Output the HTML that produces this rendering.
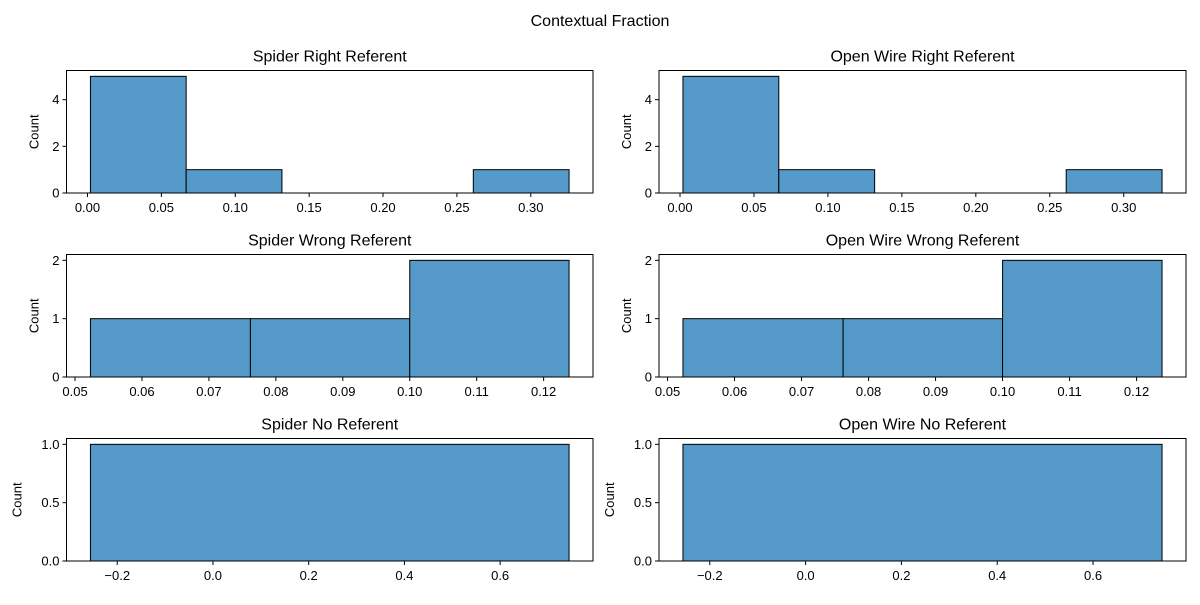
<!DOCTYPE html>
<html><head><meta charset="utf-8"><style>
body{margin:0;background:#fff;}
svg text{font-family:"Liberation Sans","DejaVu Sans",sans-serif;fill:#000;}
</style></head><body>
<svg id="fig" width="1200" height="600" viewBox="0 0 1200 600" xmlns="http://www.w3.org/2000/svg">
<rect width="1200" height="600" fill="#fff"/>
<text x="600" y="26" text-anchor="middle" font-size="16">Contextual Fraction</text>
</svg>
<script>
const rightEdges = [0.0020, 0.0668, 0.1316, 0.1963, 0.2611, 0.3259];
const rightCounts = [5, 1, 0, 0, 1];
const rightXTicks = [0.00, 0.05, 0.10, 0.15, 0.20, 0.25, 0.30];
const rightXLabels = ["0.00","0.05","0.10","0.15","0.20","0.25","0.30"];
const rightYTicks = [0, 2, 4];
const wrongEdges = [0.0523, 0.0762, 0.1000, 0.1238];
const wrongCounts = [1, 1, 2];
const wrongXTicks = [0.05,0.06,0.07,0.08,0.09,0.10,0.11,0.12];
const wrongXLabels = ["0.05","0.06","0.07","0.08","0.09","0.10","0.11","0.12"];
const wrongYTicks = [0, 1, 2];
const noEdges = [-0.256, 0.744];
const noCounts = [1];
const noXTicks = [-0.2, 0.0, 0.2, 0.4, 0.6];
const noXLabels = ["\u22120.2","0.0","0.2","0.4","0.6"];
const noYTicks = [0, 0.5, 1.0];
const noYLabels = ["0.0","0.5","1.0"];

const NS="http://www.w3.org/2000/svg";
const svg=document.getElementById('fig');
function mk(tag,attrs,parent){const e=document.createElementNS(NS,tag);for(const k in attrs)e.setAttribute(k,attrs[k]);(parent||svg).appendChild(e);return e;}

function panel(name,title,x0,x1,y0,y1,edges,counts,xt,xl,yt,yl,ylabX){
  const g=mk('g',{});
  
  
  const lo=edges[0],hi=edges[edges.length-1],m=(hi-lo)*0.05;
  const xmin=lo-m,xmax=hi+m;
  const ymaxData=Math.max(...counts);const ymax=ymaxData*1.05;
  const sx=v=>x0+(v-xmin)/(xmax-xmin)*(x1-x0);
  const sy=v=>y1-v/ymax*(y1-y0);
  for(let i=0;i<counts.length;i++){
    if(counts[i]<=0)continue;
    const r=mk('rect',{x:sx(edges[i]),y:sy(counts[i]),width:sx(edges[i+1])-sx(edges[i]),height:sy(0)-sy(counts[i]),fill:'#5599c8',stroke:'#000','stroke-width':1},g);
    
    
  }
  const f=mk('rect',{x:x0,y:y0,width:x1-x0,height:y1-y0,fill:'none',stroke:'#000','stroke-width':1},g);
  
  
  xt.forEach((v,i)=>{const x=sx(v);mk('line',{x1:x,x2:x,y1:y1,y2:y1+4,stroke:'#000'},g);
    const t=mk('text',{x:x,y:y1+19,'text-anchor':'middle','font-size':13},g);t.textContent=xl[i];
    
    });
  yt.forEach((v,i)=>{const y=sy(v);mk('line',{x1:x0-4,x2:x0,y1:y,y2:y,stroke:'#000'},g);
    const t=mk('text',{x:x0-7,y:y+4.5,'text-anchor':'end','font-size':13},g);t.textContent=yl?yl[i]:String(v);
    
    });
  const yc=(y0+y1)/2;
  const yl2=mk('text',{x:ylabX,y:yc,'text-anchor':'middle','font-size':13,transform:`rotate(-90 ${ylabX} ${yc})`},g);yl2.textContent='Count';
  
  
  const tt=mk('text',{x:(x0+x1)/2,y:y0-9,'text-anchor':'middle','font-size':16},g);tt.textContent=title;
  
  
}
const cols=[[66.5,593],[659,1186]];
const rows=[[70.5,193],[254.5,377],[438.5,561]];
const names=[["Spider","spider"],["Open Wire","open-wire"]];
cols.forEach((c,ci)=>{
  const [nm,key]=names[ci];
  panel(key+'-right-referent-panel',nm+' Right Referent',c[0],c[1],rows[0][0],rows[0][1],rightEdges,rightCounts,rightXTicks,rightXLabels,rightYTicks,null,c[0]-28);
  panel(key+'-wrong-referent-panel',nm+' Wrong Referent',c[0],c[1],rows[1][0],rows[1][1],wrongEdges,wrongCounts,wrongXTicks,wrongXLabels,wrongYTicks,null,c[0]-28);
  panel(key+'-no-referent-panel',nm+' No Referent',c[0],c[1],rows[2][0],rows[2][1],noEdges,noCounts,noXTicks,noXLabels,noYTicks,noYLabels,c[0]-45);
});
</script>
</body></html>
